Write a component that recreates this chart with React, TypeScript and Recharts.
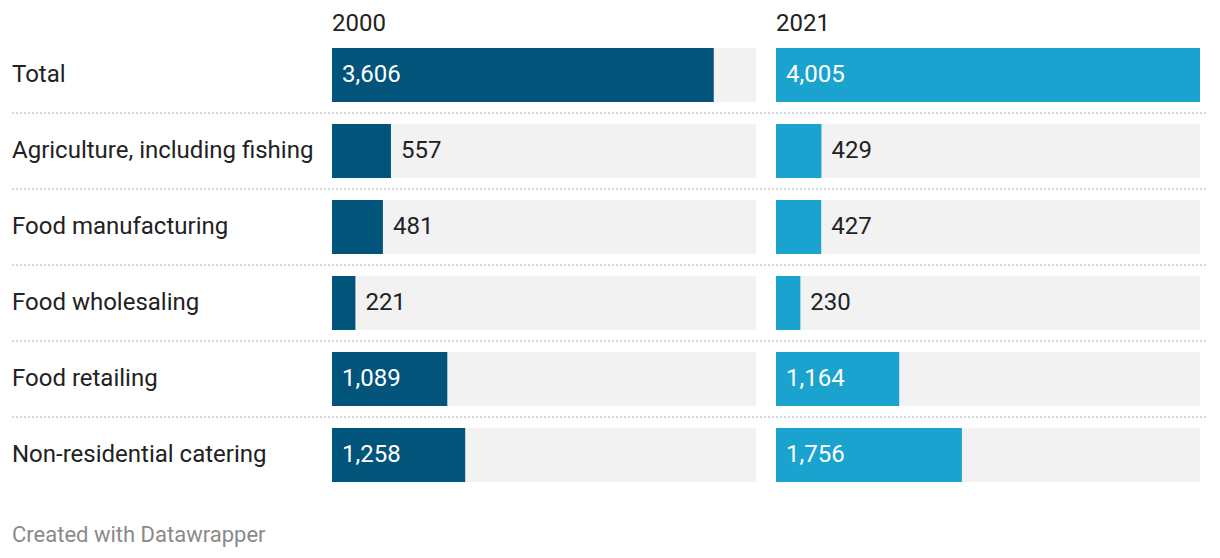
import { BarChart, Bar, XAxis, YAxis, LabelList } from 'recharts';

const categories = [
  'Total',
  'Agriculture, including fishing',
  'Food manufacturing',
  'Food wholesaling',
  'Food retailing',
  'Non-residential catering',
];
const values2000 = [3606, 557, 481, 221, 1089, 1258];
const values2021 = [4005, 429, 427, 230, 1164, 1756];
const years = ['2000', '2021'];

const data = categories.map((name, i) => ({
  name,
  v2000: values2000[i],
  v2021: values2021[i],
}));

const maxValue = Math.max(...values2000, ...values2021);

const FONT = 'Roboto, sans-serif';
const DARK = '#03547b';
const LIGHT = '#1aa3cf';
const TRACK = '#f2f2f2';

const W = 1220;
const H = 558;

function CategoryTick(props: any) {
  const { y, payload, index } = props;
  return (
    <g>
      <text x={12} y={y - 1} dominantBaseline="central" fontSize={24} fill="#222" fontFamily={FONT}>
        {payload.value}
      </text>
      {index < categories.length - 1 && (
        <line x1={12} x2={1208} y1={y + 38} y2={y + 38} stroke="#d6d6d6" strokeWidth={2} strokeDasharray="2 2" />
      )}
    </g>
  );
}

function ValueLabel(props: any) {
  const { x, y, width, height, value } = props;
  const inside = width > 100;
  return (
    <text
      x={inside ? x + 10 : x + width + 10}
      y={y + height / 2 - 1}
      dominantBaseline="central"
      fontSize={24}
      fontFamily={FONT}
      fill={inside ? '#fff' : '#222'}
    >
      {Number(value).toLocaleString('en-US')}
    </text>
  );
}

export default function App() {
  return (
    <div style={{ position: 'absolute', left: 0, top: 0, width: W, height: H, background: '#fff', fontFamily: FONT }}>
      {/* 2000 column, with category labels */}
      <div style={{ position: 'absolute', left: 0, top: 0 }}>
        <BarChart width={W} height={H} data={data} layout="vertical" margin={{ top: 37, right: 464, bottom: 65, left: 0 }}>
          <XAxis type="number" domain={[0, maxValue]} hide />
          <YAxis type="category" dataKey="name" width={332} axisLine={false} tickLine={false} tick={<CategoryTick />} interval={0} />
          <Bar dataKey="v2000" fill={DARK} barSize={54} background={{ fill: TRACK }} isAnimationActive={false}>
            <LabelList dataKey="v2000" content={<ValueLabel />} />
          </Bar>
        </BarChart>
      </div>
      {/* 2021 column */}
      <div style={{ position: 'absolute', left: 0, top: 0 }}>
        <BarChart width={W} height={H} data={data} layout="vertical" margin={{ top: 37, right: 20, bottom: 65, left: 776 }}>
          <XAxis type="number" domain={[0, maxValue]} hide />
          <YAxis type="category" dataKey="name" hide width={0} />
          <Bar dataKey="v2021" fill={LIGHT} barSize={54} background={{ fill: TRACK }} isAnimationActive={false}>
            <LabelList dataKey="v2021" content={<ValueLabel />} />
          </Bar>
        </BarChart>
      </div>
      <div style={{ position: 'absolute', left: 332, top: 10, fontSize: 24, lineHeight: '26px', color: '#222' }}>{years[0]}</div>
      <div style={{ position: 'absolute', left: 776, top: 10, fontSize: 24, lineHeight: '26px', color: '#222' }}>{years[1]}</div>
      <div style={{ position: 'absolute', left: 12, top: 522, fontSize: 22, lineHeight: '26px', color: '#8a8a8a' }}>
        Created with Datawrapper
      </div>
    </div>
  );
}
